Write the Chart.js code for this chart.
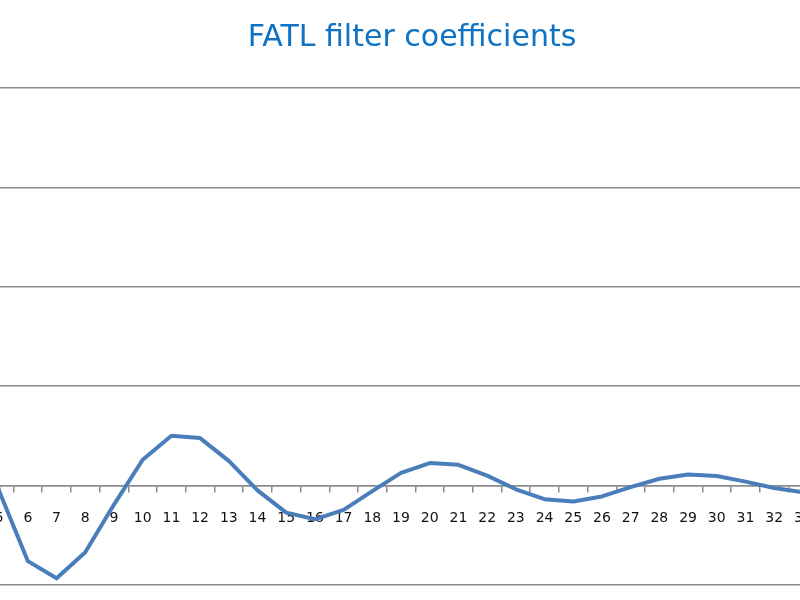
<!DOCTYPE html>
<html>
<head>
<meta charset="utf-8">
<title>FATL filter coefficients</title>
<script src="https://cdn.jsdelivr.net/npm/chart.js@4"></script>
<style>
  html, body { margin: 0; padding: 0; background: #fff; overflow: hidden; }
  #wrap { position: relative; width: 800px; height: 600px; overflow: hidden; }
  #chart { position: absolute; left: -178px; top: 0; }
</style>
</head>
<body>
<div id="wrap">
  <canvas id="chart" width="1180" height="600"></canvas>
</div>
<script>
const TITLE = "FATL filter coefficients";

const categories = [
  "1", "2", "3", "4", "5", "6", "7", "8", "9", "10",
  "11", "12", "13", "14", "15", "16", "17", "18", "19", "20",
  "21", "22", "23", "24", "25", "26", "27", "28", "29", "30",
  "31", "32", "33", "34", "35", "36", "37", "38", "39"
];

const coefficients = [
  0.4360, 0.3659, 0.2460, 0.1105, -0.0054, -0.0760, -0.0933, -0.0670, -0.0191, 0.0260,
  0.0502, 0.0478, 0.0249, -0.0048, -0.0272, -0.0339, -0.0244, -0.0056, 0.0128, 0.0227,
  0.0209, 0.0100, -0.0037, -0.0137, -0.0160, -0.0109, -0.0016, 0.0069, 0.0111, 0.0096,
  0.0040, -0.0024, -0.0067, -0.0072, -0.0048, 0.0006, 0.0008, 0.0130, 0.0040
];

const yMin = -0.1;
const yMax = 0.4;
const yStep = 0.1;

const gridColor = "#8c8c8c";

const ctx = document.getElementById("chart");

const chart = new Chart(ctx, {
  type: "line",
  data: {
    labels: categories,
    datasets: [{
      label: "Series1",
      data: coefficients,
      borderColor: "#4a7ebb",
      borderWidth: 4,
      borderJoinStyle: "round",
      borderCapStyle: "round",
      pointRadius: 0,
      tension: 0,
      fill: false
    }]
  },
  options: {
    responsive: false,
    animation: false,
    layout: { padding: { top: 0, bottom: 15, left: 0, right: 0 } },
    plugins: {
      legend: { display: false },
      tooltip: { enabled: false },
      title: {
        display: true,
        text: TITLE,
        color: "#0f72c2",
        font: { family: "DejaVu Sans", size: 30, weight: "normal", lineHeight: 1.2 },
        padding: { top: 20.5, bottom: 31.5 }
      }
    },
    scales: {
      x: {
        type: "category",
        position: { y: 0 },
        offset: true,
        grid: {
          offset: true,
          drawOnChartArea: false,
          drawTicks: true,
          tickLength: 6,
          color: gridColor,
          lineWidth: 1.5
        },
        border: { display: true, color: gridColor, width: 1.5 },
        ticks: {
          color: "#111",
          font: { family: "DejaVu Sans", size: 14 },
          padding: 18,
          maxRotation: 0,
          autoSkip: false
        }
      },
      y: {
        min: yMin,
        max: yMax,
        // keeps the plot area where the original had its value axis
        afterFit: scale => { scale.width = 48; },
        grid: {
          drawTicks: false,
          color: gridColor,
          lineWidth: 1.5
        },
        border: { display: false },
        ticks: { display: false, stepSize: yStep }
      }
    }
  }
});
</script>
</body>
</html>
